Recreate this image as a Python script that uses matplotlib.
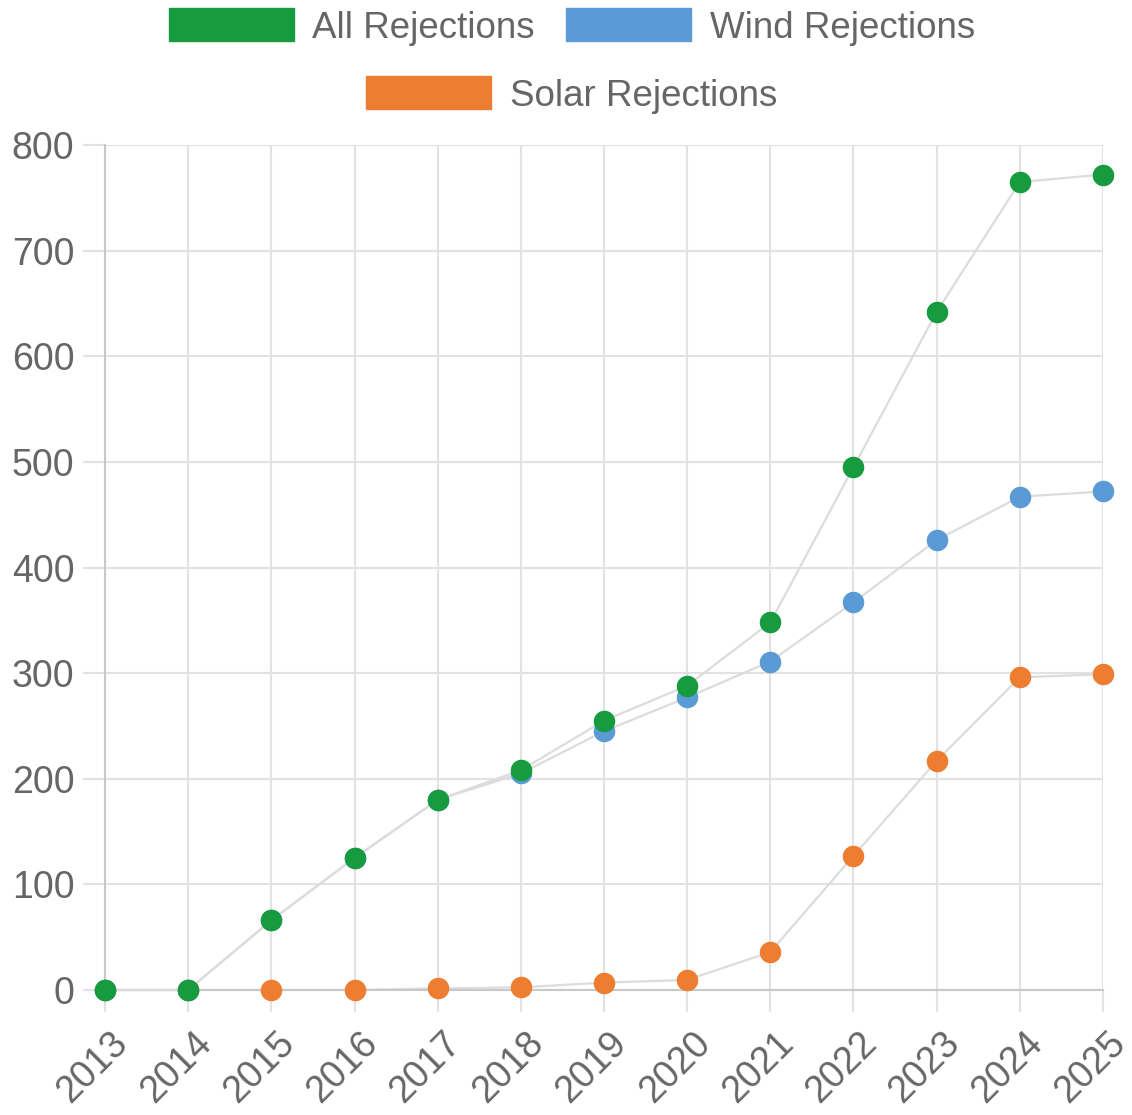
import matplotlib
matplotlib.use("Agg")
import matplotlib.pyplot as plt
import matplotlib.transforms as mtransforms
from matplotlib.patches import Patch

years = ["2013", "2014", "2015", "2016", "2017", "2018", "2019",
         "2020", "2021", "2022", "2023", "2024", "2025"]
all_rej = [0, 0, 66, 125, 180, 208, 255, 288, 348, 495, 642, 765, 772]
wind_rej = [0, 0, 66, 125, 180, 205, 245, 277, 311, 367, 426, 467, 472]
solar_rej = [0, 0, 0, 0, 1.5, 2.5, 7, 9.5, 36, 127, 217, 296, 299]
y_ticks = [0, 100, 200, 300, 400, 500, 600, 700, 800]

GREEN = "#169b3e"
BLUE = "#5b9bd5"
ORANGE = "#ed7d31"
LINE = "#dcdcdc"
GRID = "#e2e2e2"
TEXT = "#666666"

plt.rcParams['font.family'] = ['Liberation Sans', 'DejaVu Sans']

fig = plt.figure(figsize=(11.32, 11.15), dpi=100)
ax = fig.add_axes([105/1132, 1 - 990/1115, (1103-105)/1132, (990-145)/1115])

x = list(range(len(years)))
series = [(solar_rej, ORANGE, 2), (wind_rej, BLUE, 3), (all_rej, GREEN, 4)]
for vals, col, z in series:
    ax.plot(x, vals, color=LINE, lw=1.6, zorder=z, clip_on=False)
for vals, col, z in series:
    ax.plot(x, vals, linestyle='none', marker='o', ms=14.5, color=col,
            mec=col, mew=1, zorder=z + 5, clip_on=False)

ax.set_xlim(0, len(years) - 1)
ax.set_ylim(0, 800)
ax.set_yticks(y_ticks)
ax.set_xticks(x)
ax.grid(True, color=GRID, lw=1.5)
ax.set_axisbelow(True)
for s in ['top', 'right']:
    ax.spines[s].set_visible(False)
for s in ['left', 'bottom']:
    ax.spines[s].set_color('#c8c8c8')
    ax.spines[s].set_linewidth(1.5)
ax.tick_params(axis='both', colors=GRID, width=1.5, length=16,
               labelcolor=TEXT)
ax.tick_params(axis='y', pad=6, labelsize=27)
ax.tick_params(axis='x', pad=40, labelsize=27)
ax.set_xticklabels(years, rotation=45, ha='center', va='center',
                   rotation_mode='anchor', fontsize=27, color=TEXT)
shift = mtransforms.ScaledTranslation(-12/100, 0, fig.dpi_scale_trans)
for lab in ax.get_xticklabels():
    lab.set_transform(lab.get_transform() + shift)

h1 = [Patch(facecolor=GREEN, edgecolor=GREEN), Patch(facecolor=BLUE, edgecolor=BLUE)]
h2 = [Patch(facecolor=ORANGE, edgecolor=ORANGE)]
leg_kw = dict(frameon=False, fontsize=26.5, handlelength=3.4, handleheight=1.0,
              handletextpad=0.5, columnspacing=0.85, labelcolor=TEXT,
              borderaxespad=0, borderpad=0)
l1 = fig.legend(h1, ["All Rejections", "Wind Rejections"], ncol=2,
                loc='center', bbox_to_anchor=(0.505, 1 - 27/1115), **leg_kw)
l2 = fig.legend(h2, ["Solar Rejections"], ncol=1,
                loc='center', bbox_to_anchor=(0.505, 1 - 95/1115), **leg_kw)

fig.savefig("out.png", dpi=100, facecolor='white')
